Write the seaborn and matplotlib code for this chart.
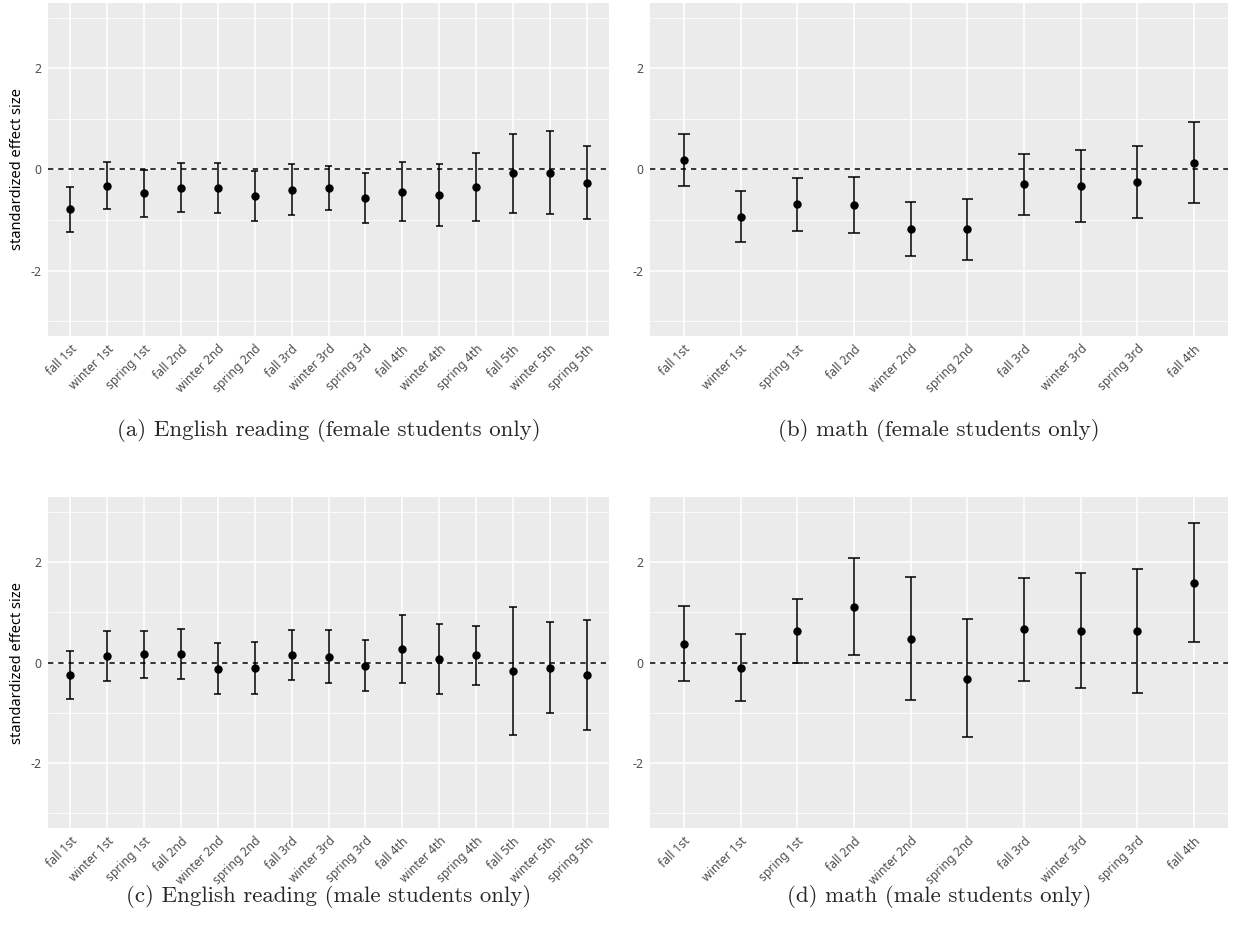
import numpy as np
import pandas as pd
import matplotlib
matplotlib.use("Agg")
import matplotlib.pyplot as plt
from matplotlib.ticker import FixedLocator
import seaborn as sns

# ---- data -------------------------------------------------------------
waves_reading = ["fall 1st", "winter 1st", "spring 1st", "fall 2nd", "winter 2nd",
                 "spring 2nd", "fall 3rd", "winter 3rd", "spring 3rd", "fall 4th",
                 "winter 4th", "spring 4th", "fall 5th", "winter 5th", "spring 5th"]
waves_math = ["fall 1st", "winter 1st", "spring 1st", "fall 2nd", "winter 2nd",
              "spring 2nd", "fall 3rd", "winter 3rd", "spring 3rd", "fall 4th"]

# (a) English reading, female students
read_f_est = [-0.78, -0.32, -0.47, -0.36, -0.375, -0.53, -0.40, -0.37, -0.56, -0.44,
              -0.50, -0.35, -0.07, -0.06, -0.26]
read_f_lo = [-1.23, -0.79, -0.94, -0.84, -0.86, -1.01, -0.90, -0.80, -1.05, -1.02,
             -1.12, -1.01, -0.85, -0.88, -0.98]
read_f_hi = [-0.34, 0.145, -0.01, 0.13, 0.125, -0.03, 0.11, 0.066, -0.06, 0.15,
             0.11, 0.32, 0.71, 0.76, 0.47]

# (b) math, female students
math_f_est = [0.18, -0.93, -0.69, -0.70, -1.17, -1.18, -0.29, -0.33, -0.24, 0.125]
math_f_lo = [-0.33, -1.44, -1.21, -1.26, -1.70, -1.78, -0.89, -1.03, -0.95, -0.67]
math_f_hi = [0.70, -0.42, -0.17, -0.14, -0.64, -0.59, 0.30, 0.38, 0.47, 0.93]

# (c) English reading, male students
read_m_est = [-0.25, 0.12, 0.16, 0.17, -0.125, -0.11, 0.15, 0.11, -0.06, 0.26,
              0.066, 0.14, -0.17, -0.105, -0.25]
read_m_lo = [-0.73, -0.375, -0.31, -0.32, -0.625, -0.625, -0.35, -0.41, -0.56, -0.41,
             -0.625, -0.45, -1.45, -1.00, -1.34]
read_m_hi = [0.22, 0.62, 0.625, 0.66, 0.38, 0.40, 0.65, 0.645, 0.44, 0.95,
             0.77, 0.72, 1.10, 0.80, 0.84]

# (d) math, male students
math_m_est = [0.375, -0.105, 0.63, 1.11, 0.47, -0.32, 0.66, 0.625, 0.625, 1.59]
math_m_lo = [-0.375, -0.77, 0.0, 0.15, -0.75, -1.49, -0.375, -0.51, -0.605, 0.40]
math_m_hi = [1.125, 0.57, 1.26, 2.08, 1.70, 0.855, 1.68, 1.77, 1.85, 2.78]

captions = ["(a) English reading (female students only)",
            "(b) math (female students only)",
            "(c) English reading (male students only)",
            "(d) math (male students only)"]
y_title = "standardized effect size"

panels = [
    (waves_reading, read_f_est, read_f_lo, read_f_hi),
    (waves_math, math_f_est, math_f_lo, math_f_hi),
    (waves_reading, read_m_est, read_m_lo, read_m_hi),
    (waves_math, math_m_est, math_m_lo, math_m_hi),
]

# ---- style ------------------------------------------------------------
sns.set_theme(style="darkgrid")
plt.rcParams["font.family"] = ["Noto Sans", "DejaVu Sans"]

W, H = 1233, 942
fig = plt.figure(figsize=(W / 100, H / 100), dpi=100)

# axes boxes in pixels: left, right, top, bottom
boxes = [(48, 609, 3, 336), (650, 1228, 3, 336),
         (48, 609, 497, 828), (650, 1228, 497, 828)]
caption_y = [431, 431, 897, 897]

for i, ((waves, est, lo, hi), (l, r, t, b)) in enumerate(zip(panels, boxes)):
    ax = fig.add_axes([l / W, 1 - b / H, (r - l) / W, (b - t) / H])
    ax.set_facecolor("#EBEBEB")
    df = pd.DataFrame({"wave": waves, "est": est, "lo": lo, "hi": hi})
    df["wave"] = pd.Categorical(df["wave"], categories=waves, ordered=True)
    pos = np.arange(len(waves))

    ax.axhline(0, color="black", lw=1.1, ls=(0, (3.5, 3.2)), zorder=2)
    ax.vlines(pos, df["lo"], df["hi"], color="black", lw=1.1, zorder=3)
    ax.hlines(df["lo"], pos - 0.1, pos + 0.1, color="black", lw=1.1, zorder=3)
    ax.hlines(df["hi"], pos - 0.1, pos + 0.1, color="black", lw=1.1, zorder=3)
    sns.pointplot(data=df, x="wave", y="est", order=waves, color="black",
                  linestyle="none", markers="o", markersize=4.0, errorbar=None,
                  ax=ax, zorder=4)

    ax.set_xlim(-0.6, len(waves) - 0.4)
    ax.set_ylim(-3.29, 3.29)
    ax.yaxis.set_major_locator(FixedLocator([-2, 0, 2]))
    ax.yaxis.set_minor_locator(FixedLocator([-3, -1, 1, 3]))
    ax.set_yticklabels(["-2", "0", "2"])
    ax.grid(which="major", color="white", lw=1.1)
    ax.grid(which="minor", axis="y", color="white", lw=0.55)
    ax.set_axisbelow(True)
    for s in ax.spines.values():
        s.set_visible(False)
    ax.tick_params(axis="both", which="major", length=2.7, width=0.8,
                   color="#333333", labelcolor="#4D4D4D", labelsize=8.8, pad=2)
    ax.tick_params(axis="y", which="minor", length=0)
    ax.set_xticks(pos)
    ax.set_xticklabels(waves, rotation=45, ha="right", va="top",
                       rotation_mode="anchor")
    ax.set_xlabel("")
    if i % 2 == 0:
        ax.set_ylabel(y_title, fontsize=10.5, color="black", labelpad=4)
    else:
        ax.set_ylabel("")

    fig.text((l + r) / 2 / W, 1 - caption_y[i] / H, captions[i],
             ha="center", va="center", fontsize=16.5, family="cmr10")

fig.savefig("out.png", dpi=100)
